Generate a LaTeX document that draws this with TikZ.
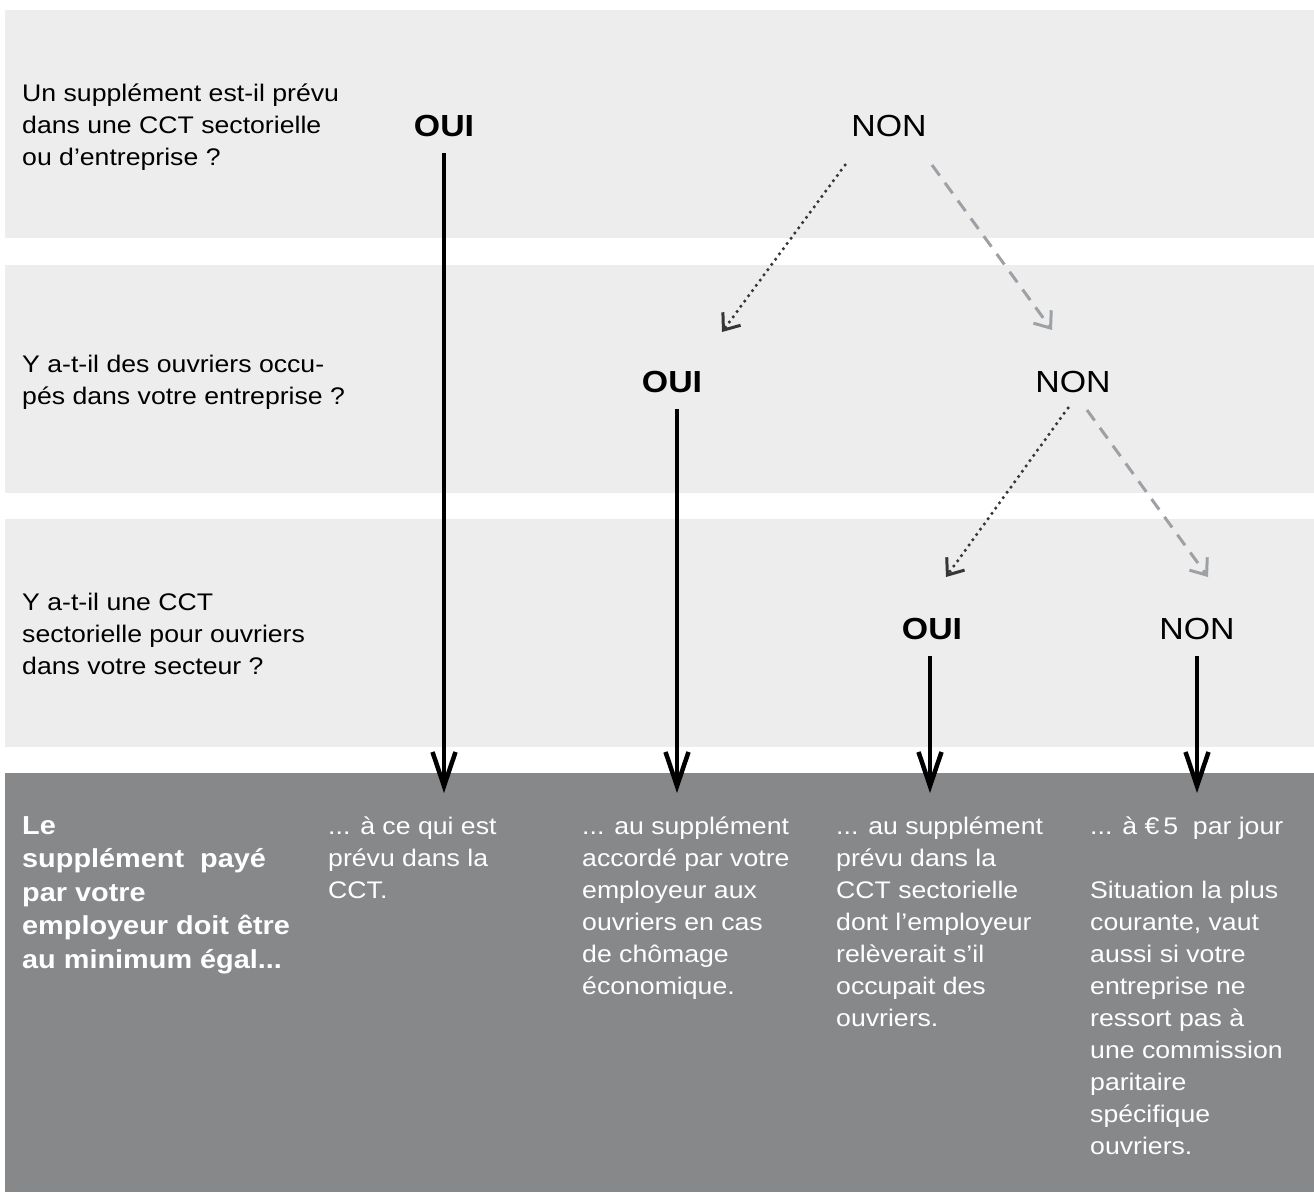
\documentclass[tikz,border=0pt]{standalone}
\usepackage{fontspec}
\setmainfont{Liberation Sans}[FakeStretch=1.11]
\usetikzlibrary{arrows.meta}
\definecolor{bandgray}{HTML}{EDEDED}
\definecolor{darkband}{HTML}{87888A}
\definecolor{dotgray}{HTML}{363636}
\definecolor{dashgray}{HTML}{9DA1A5}
\tikzset{
 question/.style={anchor=base west, align=left, inner sep=0pt, font=\fontsize{24}{32}\selectfont},
 answer/.style={anchor=center, inner sep=0pt, text height=22pt, text depth=0pt, font=\fontsize{30.5}{34}\selectfont},
 ouistyle/.style={answer, font=\fontsize{30.5}{34}\selectfont\bfseries},
 result/.style={anchor=base west, align=left, inner sep=0pt, text=white, font=\fontsize{24}{32}\selectfont},
 leadtext/.style={result, font=\fontsize{26}{33.5}\selectfont\bfseries},
 mainarrow/.style={line width=4pt, -{Straight Barb[length=34pt,width=23pt,line width=4.5pt]}, shorten <=17pt},
 dotarrow/.style={dotgray, line width=3.5pt, line cap=round, dash pattern=on 0pt off 6.5pt, -{Straight Barb[length=14pt,width=22pt,line width=3pt]}},
 dasharrow/.style={dashgray, line width=3pt, dash pattern=on 13pt off 9pt, -{Straight Barb[length=14pt,width=22pt,line width=3pt]}},
}
\begin{document}
\begin{tikzpicture}[x=1pt,y=-1pt]
\path[use as bounding box] (0,0) rectangle (1314,1192);
\fill[bandgray] (5,10) rectangle (1314,238);
\fill[bandgray] (5,265) rectangle (1314,493);
\fill[bandgray] (5,519) rectangle (1314,747);
\fill[darkband] (5,773) rectangle (1314,1192);

% multi-line nodes: base anchor lies on the last line
\node[question] (q1) at (22,165) {Un supplément est-il prévu\\dans une CCT sectorielle\\ou d’entreprise ?};
\node[question] (q2) at (22,404) {Y a-t-il des ouvriers occu-\\pés dans votre entreprise ?};
\node[question] (q3) at (22,674) {Y a-t-il une CCT\\sectorielle pour ouvriers\\dans votre secteur ?};

\node[ouistyle] (oui1) at (444,125) {OUI};
\node[answer] (non1) at (889,125) {NON};
\node[ouistyle] (oui2) at (672,381) {OUI};
\node[answer] (non2) at (1073,381) {NON};
\node[ouistyle] (oui3) at (932,628) {OUI};
\node[answer] (non3) at (1197,628) {NON};

\node[leadtext] (lead) at (22,968) {Le\\supplément\ \ payé\\par votre\\employeur doit être\\au minimum égal...};
\node[result] (r1) at (328,898) {... à ce qui est\\prévu dans la\\CCT.};
\node[result] (r2) at (582,994) {... au supplément\\accordé par votre\\employeur aux\\ouvriers en cas\\de chômage\\économique.};
\node[result] (r3) at (836,1026) {... au supplément\\prévu dans la\\CCT sectorielle\\dont l’employeur\\relèverait s’il\\occupait des\\ouvriers.};
\node[result] (r4) at (1090,1154) {... à €\,5\ \ par jour\\[32pt]Situation la plus\\courante, vaut\\aussi si votre\\entreprise ne\\ressort pas à\\une commission\\paritaire\\spécifique\\ouvriers.};

\coordinate (t1) at (444,793);
\coordinate (t2) at (677,793);
\coordinate (t3) at (930,793);
\coordinate (t4) at (1197,793);
\draw[mainarrow] (oui1.south) -- (t1);
\draw[mainarrow] (oui2.south -| t2) -- (t2);
\draw[mainarrow] (oui3.south -| t3) -- (t3);
\draw[mainarrow] (non3.south) -- (t4);

\coordinate (a1) at (845,165);
\coordinate (b1) at (722,332);
\coordinate (a2) at (932,165);
\coordinate (b2) at (1052,330);
\coordinate (a3) at (1068,408);
\coordinate (b3) at (946,577);
\coordinate (a4) at (1087,410);
\coordinate (b4) at (1208,577);
\draw[dotarrow] (a1) -- (b1);
\draw[dasharrow] (a2) -- (b2);
\draw[dotarrow] (a3) -- (b3);
\draw[dasharrow] (a4) -- (b4);
\end{tikzpicture}
\end{document}
